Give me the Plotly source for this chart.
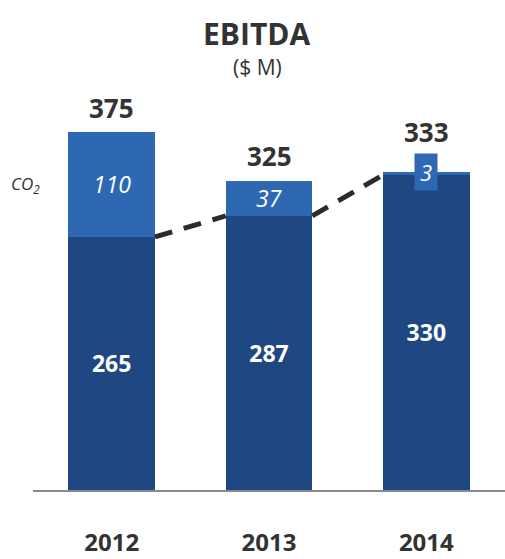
import plotly.graph_objects as go

years = ["2012", "2013", "2014"]
base_vals = [265, 287, 330]
co2_vals = [110, 37, 3]
totals = [375, 325, 333]

DARK = "#1f4782"
LIGHT = "#2e68b3"
TXT = "#333333"
W = 0.55
xs = list(range(len(years)))

fig = go.Figure()
fig.add_trace(go.Bar(
    x=xs, y=base_vals, width=W, marker=dict(color=DARK, line=dict(width=0)),
    text=[str(v) for v in base_vals], textposition="inside", insidetextanchor="middle",
    textfont=dict(family="Open Sans", size=23, color="white", weight="bold"),
    textangle=0, hoverinfo="skip"))
fig.add_trace(go.Bar(
    x=xs, y=co2_vals, width=W, marker=dict(color=LIGHT, line=dict(width=0)),
    hoverinfo="skip"))

# labels of the CO2 segments (large enough ones inside the bar)
for i, v in enumerate(co2_vals):
    if v > 10:
        fig.add_annotation(x=xs[i], y=base_vals[i] + v / 2, text="<i>%d</i>" % v,
                           showarrow=False, yanchor="middle",
                           font=dict(family="Open Sans", size=23, color="white"))
    else:
        fig.add_annotation(x=xs[i], y=totals[i], text="<i>%d</i>" % v, showarrow=False,
                           yanchor="middle",
                           font=dict(family="Open Sans", size=22, color="white"),
                           bgcolor=LIGHT, borderpad=2, width=18, height=32)

# dashed connector between dark-segment tops (edge to edge)
for i in range(len(years) - 1):
    fig.add_trace(go.Scatter(
        x=[xs[i] + W / 2, xs[i + 1] - W / 2], y=[base_vals[i], base_vals[i + 1]],
        mode="lines", line=dict(color="#2b2b2b", width=5, dash="18px,12px"),
        hoverinfo="skip", showlegend=False))

# totals
for i, t in enumerate(totals):
    shift = 24 if co2_vals[i] > 10 else 40
    fig.add_annotation(x=xs[i], y=t, text="<b>%d</b>" % t, showarrow=False,
                       yanchor="middle", yshift=shift,
                       font=dict(family="Open Sans", size=26, color=TXT))

fig.add_annotation(x=(25 - 33) / 472, xref="paper", xanchor="center",
                   y=co2_vals[0] / 2 + base_vals[0],
                   text="<i>CO<sub>2</sub></i>", showarrow=False,
                   font=dict(family="Open Sans", size=17, color=TXT))

fig.add_annotation(x=(256 - 33) / 472, xref="paper", y=1, yref="paper", yanchor="middle",
                   yshift=100 - 33, text="<b>EBITDA</b>", showarrow=False,
                   font=dict(family="Open Sans", size=30, color=TXT))
fig.add_annotation(x=(257 - 33) / 472, xref="paper", y=1, yref="paper", yanchor="middle",
                   yshift=100 - 67, text="($ M)", showarrow=False,
                   font=dict(family="Open Sans", size=21, color=TXT))

fig.update_layout(
    width=505, height=559, barmode="stack", showlegend=False,
    margin=dict(l=33, r=0, t=100, b=69, autoexpand=False),
    paper_bgcolor="white", plot_bgcolor="white",
    font=dict(family="Open Sans", color=TXT),
    xaxis=dict(range=[-0.5, 2.5], tickvals=xs, ticktext=years, showgrid=False,
               showline=True, linecolor="#8a8a8a", linewidth=2, zeroline=False,
               ticks="outside", ticklen=30, tickcolor="rgba(0,0,0,0)", automargin=False,
               tickfont=dict(family="Open Sans", size=24, color=TXT, weight="bold")),
    yaxis=dict(range=[0, 408.4], visible=False, automargin=False),
)

fig.write_html("out.html")
